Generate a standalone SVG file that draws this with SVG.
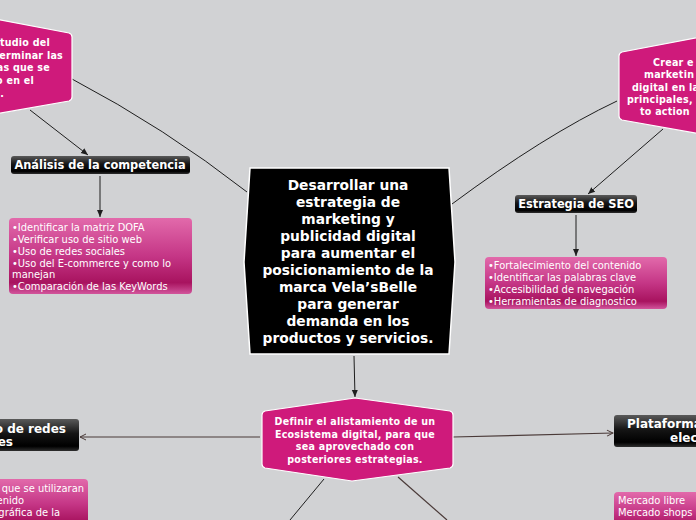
<svg xmlns="http://www.w3.org/2000/svg" width="696" height="520" viewBox="0 0 696 520">
<style>
.bg{fill:#d1d2d4}
.pink{fill:#cf1a7b;stroke:#ffffff;stroke-width:1.2}
.title{font-family:"DejaVu Sans",Verdana,sans-serif;font-weight:bold;fill:#ffffff}
.ptitle{font-family:"DejaVu Sans Condensed","DejaVu Sans",Tahoma,sans-serif;font-stretch:condensed;font-weight:bold;fill:#ffffff;font-size:10.6px;letter-spacing:0.25px}
.item{font-family:"DejaVu Sans Condensed","DejaVu Sans",Tahoma,sans-serif;font-stretch:condensed;font-size:11px;fill:#ffffff}
.dark{fill:url(#gDark)}
.list{fill:url(#gList)}
.c{fill:none;stroke:#1e1e1e;stroke-width:1}
.cb{fill:none;stroke:#4a3a38;stroke-width:1.2}
</style>
<defs>
<linearGradient id="gDark" x1="0" y1="0" x2="0" y2="1">
<stop offset="0" stop-color="#5a5a5a"/>
<stop offset="0.45" stop-color="#151515"/>
<stop offset="0.85" stop-color="#000000"/>
<stop offset="1" stop-color="#2e2e2e"/>
</linearGradient>
<linearGradient id="gList" x1="0" y1="0" x2="0" y2="1">
<stop offset="0" stop-color="#e26aab"/>
<stop offset="0.5" stop-color="#c53686"/>
<stop offset="0.85" stop-color="#a8135f"/>
<stop offset="1" stop-color="#d2559c"/>
</linearGradient>
<marker id="arr" markerWidth="8" markerHeight="8" refX="7" refY="4" orient="auto" markerUnits="userSpaceOnUse">
<path d="M0,1 L7,4 L0,7 Z" fill="#1e1e1e"/>
</marker>
<marker id="arrb" markerWidth="8" markerHeight="8" refX="7" refY="4" orient="auto" markerUnits="userSpaceOnUse">
<path d="M1,1 L7,4 L1,7" fill="none" stroke="#4a3a38" stroke-width="1"/>
</marker>
</defs>
<rect class="bg" x="0" y="0" width="696" height="520"/>

<g id="connectors">
<path class="c" d="M72,79 Q165,128 247,192"/>
<path class="c" d="M30,110 L88,155" marker-end="url(#arr)"/>
<path class="c" d="M100,176 L100,217" marker-end="url(#arr)"/>
<path class="c" d="M617,101 Q545,135 452,204"/>
<path class="c" d="M663,129 L588,194" marker-end="url(#arr)"/>
<path class="c" d="M576,215 L576,256" marker-end="url(#arr)"/>
<path class="c" d="M354,356 L355,397" marker-end="url(#arr)"/>
<path class="cb" d="M260,437 L80,437" marker-end="url(#arrb)"/>
<path class="cb" d="M453,437 L613,433" marker-end="url(#arrb)"/>
<path class="c" d="M324,479 L290,520"/>
<path class="cb" d="M398,477 L447,520"/>
</g>

<g id="node-central">
<path d="M250,168 L449,168 L455,262 L449,354 L250,354 L244,262 Z" fill="#000000" stroke="#ffffff" stroke-width="1.5"/>
<g class="title" font-size="13.8" text-anchor="middle">
<text x="348" y="190">Desarrollar una</text>
<text x="348" y="207">estrategia de</text>
<text x="348" y="224">marketing y</text>
<text x="348" y="241">publicidad digital</text>
<text x="348" y="258">para aumentar el</text>
<text x="348" y="275">posicionamiento de la</text>
<text x="348" y="292">marca Vela’sBelle</text>
<text x="348" y="309">para generar</text>
<text x="348" y="326">demanda en los</text>
<text x="348" y="343">productos y servicios.</text>
</g>
</g>

<g id="node-topleft">
<path class="pink" d="M-10,18 L69,33 Q72,34 72,37 L72,97 Q72,100 69,101 L-10,115 Z"/>
<g class="ptitle" text-anchor="end">
<text x="50" y="46">tudio del</text>
<text x="63" y="58.7">erminar las</text>
<text x="50" y="71.4">as que se</text>
<text x="34" y="84.1">o en el</text>
<text x="4" y="96.8">.</text>
</g>
</g>

<g id="node-analisis">
<rect class="dark" x="11" y="156" width="179" height="18" rx="3"/>
<text class="title" font-size="11.4" x="100" y="169" text-anchor="middle">Análisis de la competencia</text>
</g>

<g id="node-analisis-list">
<rect class="list" x="9" y="218" width="183" height="76" rx="4"/>
<g class="item">
<text x="12" y="231">•Identificar la matriz DOFA</text>
<text x="12" y="243">•Verificar uso de sitio web</text>
<text x="12" y="254.5">•Uso de redes sociales</text>
<text x="12" y="266.5">•Uso del E-commerce y como lo</text>
<text x="12" y="278">manejan</text>
<text x="12" y="290">•Comparación de las KeyWords</text>
</g>
</g>

<g id="node-topright">
<path class="pink" d="M706,36 L622,52 Q619,53 619,56 L619,116 Q619,119 622,120 L706,135 Z"/>
<g class="ptitle">
<text x="653" y="66">Crear e</text>
<text x="644" y="78.3">marketin</text>
<text x="632" y="90.6">digital en la</text>
<text x="627" y="102.9">principales,</text>
<text x="640" y="115.2">to action</text>
</g>
</g>

<g id="node-seo">
<rect class="dark" x="515" y="195" width="122" height="18" rx="3"/>
<text class="title" font-size="11.4" x="576" y="208" text-anchor="middle">Estrategia de SEO</text>
</g>

<g id="node-seo-list">
<rect class="list" x="485" y="257" width="182" height="52" rx="4"/>
<g class="item">
<text x="488" y="269">•Fortalecimiento del contenido</text>
<text x="488" y="281">•Identificar las palabras clave</text>
<text x="488" y="293">•Accesibilidad de navegación</text>
<text x="488" y="305">•Herramientas de diagnostico</text>
</g>
</g>

<g id="node-definir">
<path class="pink" d="M355,398 L450,411 Q453,412 453,415 L453,464 Q453,467 450,468 L352,481 L265,468 Q262,467 262,464 L262,415 Q262,412 265,411 Z"/>
<g class="ptitle" text-anchor="middle">
<text x="355" y="425">Definir el alistamiento de un</text>
<text x="355" y="437.5">Ecosistema digital, para que</text>
<text x="355" y="450">sea aprovechado con</text>
<text x="355" y="462.5">posteriores estrategias.</text>
</g>
</g>

<g id="node-redes">
<rect class="dark" x="-10" y="419" width="89" height="32" rx="3"/>
<g class="title" font-size="12" text-anchor="end">
<text x="66" y="433">o de redes</text>
<text x="13" y="446">es</text>
</g>
</g>

<g id="node-redes-list">
<rect class="list" x="-10" y="479" width="98" height="50" rx="4"/>
<g class="item" text-anchor="end">
<text x="84" y="492">que se utilizaran</text>
<text x="24" y="504">enido</text>
<text x="60" y="516">gráfica de la</text>
</g>
</g>

<g id="node-plataforma">
<rect class="dark" x="614" y="415" width="92" height="32" rx="3"/>
<g class="title" font-size="12">
<text x="627" y="428">Plataforma</text>
<text x="670" y="442">elec</text>
</g>
</g>

<g id="node-plataforma-list">
<rect class="list" x="614" y="492" width="92" height="40" rx="4"/>
<g class="item">
<text x="618" y="504">Mercado libre</text>
<text x="618" y="516">Mercado shops</text>
</g>
</g>
</svg>
